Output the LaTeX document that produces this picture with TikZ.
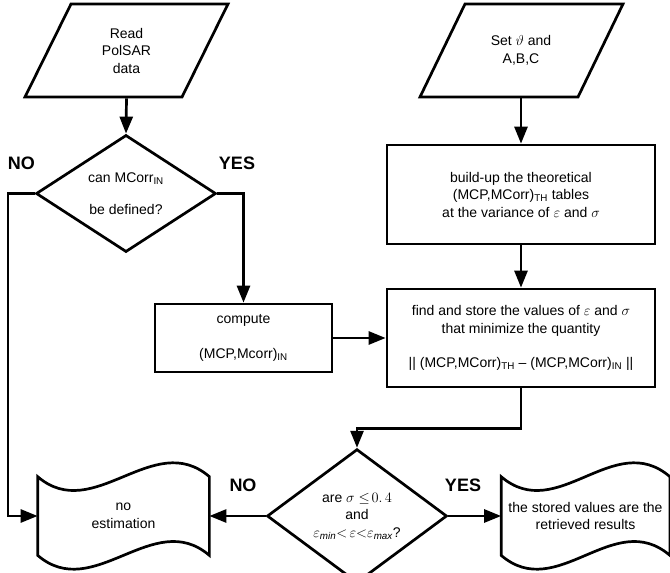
\documentclass[tikz,border=0pt]{standalone}
\usepackage{amsmath}
\usepackage{fontspec}
\setmainfont{Liberation Sans}
\usetikzlibrary{shapes.geometric,arrows.meta,calc}
\begin{document}
\begin{tikzpicture}[x=1pt,y=-1pt,
  line width=2.7pt,
  txt/.style={align=center, inner sep=0pt, font=\fontsize{14}{17.5}\selectfont},
  boxnode/.style={txt, draw, rectangle},
  dia/.style={txt, draw, diamond, minimum width=180pt, minimum height=110pt},
  lab/.style={font=\fontsize{18}{20}\selectfont\bfseries, inner sep=0pt},
  arr/.style={-{Triangle[length=17pt,width=13pt]}},
]
\useasboundingbox (0,0) rectangle (670,573);

% input parallelograms
\node[txt, minimum width=100pt, minimum height=93pt] (read) at (126.5,50.5) {Read\\PolSAR\\data};
\draw ($(read.center)+(-55.5,-46.5)$) -- ++(157,0) -- ++(-46,93) -- ++(-157,0) -- cycle;
\node[txt, minimum width=100pt, minimum height=93pt] (set) at (521,50.5) {Set $\vartheta$ and\\A,B,C};
\draw ($(set.center)+(-56,-46.5)$) -- ++(158,0) -- ++(-45,93) -- ++(-158,0) -- cycle;

% decisions
\node[dia] (d1) at (126,193.5) {can MCorr\textsubscript{IN}\\[14pt]be defined?};
\node[dia] (d2) at (357,516) {are $\sigma \leq\! 0.\,4$\\and\\$\varepsilon_{\text{\itshape min}}{<}\,\varepsilon{<}\varepsilon_{\text{\itshape max}}$?};

% process boxes
\node[boxnode, minimum width=177pt, minimum height=68pt] (comp) at (243.5,338) {compute\\[18pt](MCP,Mcorr)\textsubscript{IN}};
\node[boxnode, minimum width=268pt, minimum height=99pt] (build) at (521,194.5) {build-up the theoretical\\(MCP,MCorr)\textsubscript{TH} tables\\at the variance of $\varepsilon$ and $\sigma$};
\node[boxnode, minimum width=268pt, minimum height=98pt] (find) at (521,338) {find and store the values of $\varepsilon$ and $\sigma$\\that minimize the quantity\\[17pt]|| (MCP,MCorr)\textsubscript{TH} -- (MCP,MCorr)\textsubscript{IN} ||};

% output tapes
\node[txt, minimum width=169pt, minimum height=76pt] (noest) at (123.5,516) {no\\estimation};
\node[txt, minimum width=166pt, minimum height=76pt] (stored) at (585.5,516) {the stored values are the\\retrieved results};
\foreach \n in {noest,stored}{
  \draw (\n.north west) .. controls +(56,48) and +(-56,-48) .. (\n.north east)
        -- (\n.south east) .. controls +(-56,-48) and +(56,48) .. (\n.south west) -- cycle;
}

% labels
\node[lab] (no1) at (21.5,163) {NO};
\node[lab] (yes1) at (237,163) {YES};
\node[lab] (no2) at (243,485) {NO};
\node[lab] (yes2) at (463,485) {YES};

% connectors
\coordinate (nbend) at (8,193.5);
\draw[arr] (read.south) -- (d1.north);
\draw[arr] (set.south) -- (build.north);
\draw[arr] (d1.east) -| (comp.north);
\draw[arr] (d1.west) -- (nbend) |- (noest.west);
\draw[arr] (build.south) -- (find.north);
\draw[arr] (comp.east) -- (find.west);
\draw[arr] (find.south) -- ++(0,40) -| (d2.north);
\draw[arr] (d2.west) -- (noest.east);
\draw[arr] (d2.east) -- (stored.west);
\end{tikzpicture}
\end{document}
